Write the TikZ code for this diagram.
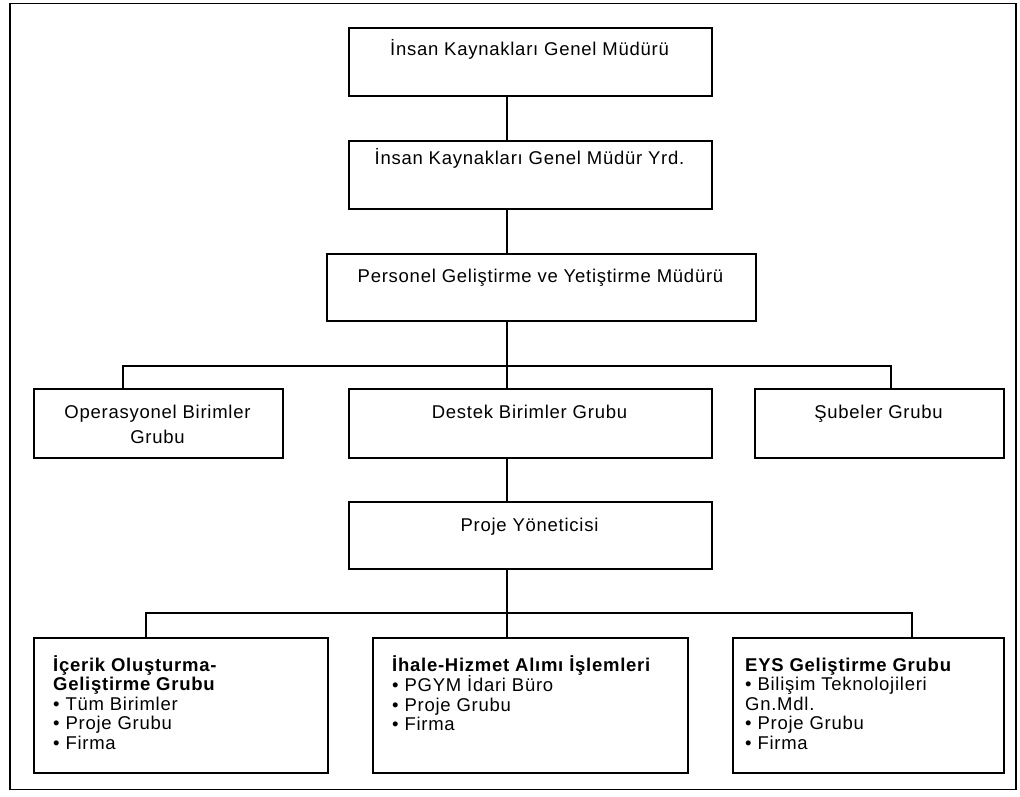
\documentclass[tikz,border=0pt]{standalone}
\usepackage{fontspec}
\setmainfont{Liberation Sans}[LetterSpace=4]
\begin{document}
\begin{tikzpicture}[x=1pt,y=-1pt,
  box/.style={draw, line width=1.5pt, inner sep=0pt, anchor=north west},
  conn/.style={line width=1.1pt},
  frame/.style={line width=1.8pt},
  lbl/.style={anchor=base, inner sep=0pt, font=\fontsize{18.5}{25}\selectfont},
  lblw/.style={anchor=base west, inner sep=0pt, font=\fontsize{18.5}{19.5}\selectfont}]
\useasboundingbox (0,0) rectangle (1020,796);
\draw[frame] (10,3.5) rectangle (1016,789.5);

% boxes
\node[box, minimum width=363pt, minimum height=68pt] (b1) at (348,27) {};
\node[box, minimum width=363pt, minimum height=68pt] (b2) at (348,140) {};
\node[box, minimum width=429pt, minimum height=67pt] (b3) at (326,253) {};
\node[box, minimum width=249pt, minimum height=69pt] (b4) at (33,388) {};
\node[box, minimum width=363pt, minimum height=69pt] (b5) at (348,388) {};
\node[box, minimum width=249pt, minimum height=69pt] (b6) at (754,388) {};
\node[box, minimum width=363pt, minimum height=67pt] (b7) at (348,501) {};
\node[box, minimum width=294pt, minimum height=135pt] (b8) at (33,637) {};
\node[box, minimum width=315pt, minimum height=135pt] (b9) at (372,637) {};
\node[box, minimum width=271pt, minimum height=135pt] (b10) at (732,637) {};

% texts
\node[lbl] (t1) at (529.5,55) {İnsan Kaynakları Genel Müdürü};
\node[lbl] (t2) at (529.5,164) {İnsan Kaynakları Genel Müdür Yrd.};
\node[lbl] (t3) at (540.5,282) {Personel Geliştirme ve Yetiştirme Müdürü};
\node[lbl] (t4) at (157.5,418) {\parbox[t]{240pt}{\centering Operasyonel Birimler\\Grubu}};
\node[lbl] (t5) at (529.5,418) {Destek Birimler Grubu};
\node[lbl] (t6) at (878.5,418) {Şubeler Grubu};
\node[lbl] (t7) at (529.5,531) {Proje Yöneticisi};
\node[lblw] (t8) at (53,671) {\parbox[t]{270pt}{\raggedright
  \textbf{İçerik Oluşturma-}\\
  \textbf{Geliştirme Grubu}\\
  • Tüm Birimler\\
  • Proje Grubu\\
  • Firma}};
\node[lblw] (t9) at (392,671) {\parbox[t]{290pt}{\raggedright
  \textbf{İhale-Hizmet Alımı İşlemleri}\\
  • PGYM İdari Büro\\
  • Proje Grubu\\
  • Firma}};
\node[lblw] (t10) at (745,671) {\parbox[t]{255pt}{\raggedright
  \textbf{EYS Geliştirme Grubu}\\
  • Bilişim Teknolojileri\\
  Gn.Mdl.\\
  • Proje Grubu\\
  • Firma}};

% connector guide coordinates
\coordinate (spine) at (507,0);
\coordinate (j1) at (507,366);
\coordinate (l1) at (123,366);
\coordinate (r1) at (891,366);
\coordinate (j2) at (507,613);
\coordinate (l2) at (146,613);
\coordinate (r2) at (912,613);

% connectors
\draw[conn] (b1.south -| spine) -- (b2.north -| spine);
\draw[conn] (b2.south -| spine) -- (b3.north -| spine);
\draw[conn] (b3.south -| spine) -- (j1);
\draw[conn] (b4.north -| l1) -- (l1) -- (r1) -- (b6.north -| r1);
\draw[conn] (j1) -- (b5.north -| spine);
\draw[conn] (b5.south -| spine) -- (b7.north -| spine);
\draw[conn] (b7.south -| spine) -- (j2);
\draw[conn] (b8.north -| l2) -- (l2) -- (r2) -- (b10.north -| r2);
\draw[conn] (j2) -- (b9.north -| spine);
\end{tikzpicture}
\end{document}
